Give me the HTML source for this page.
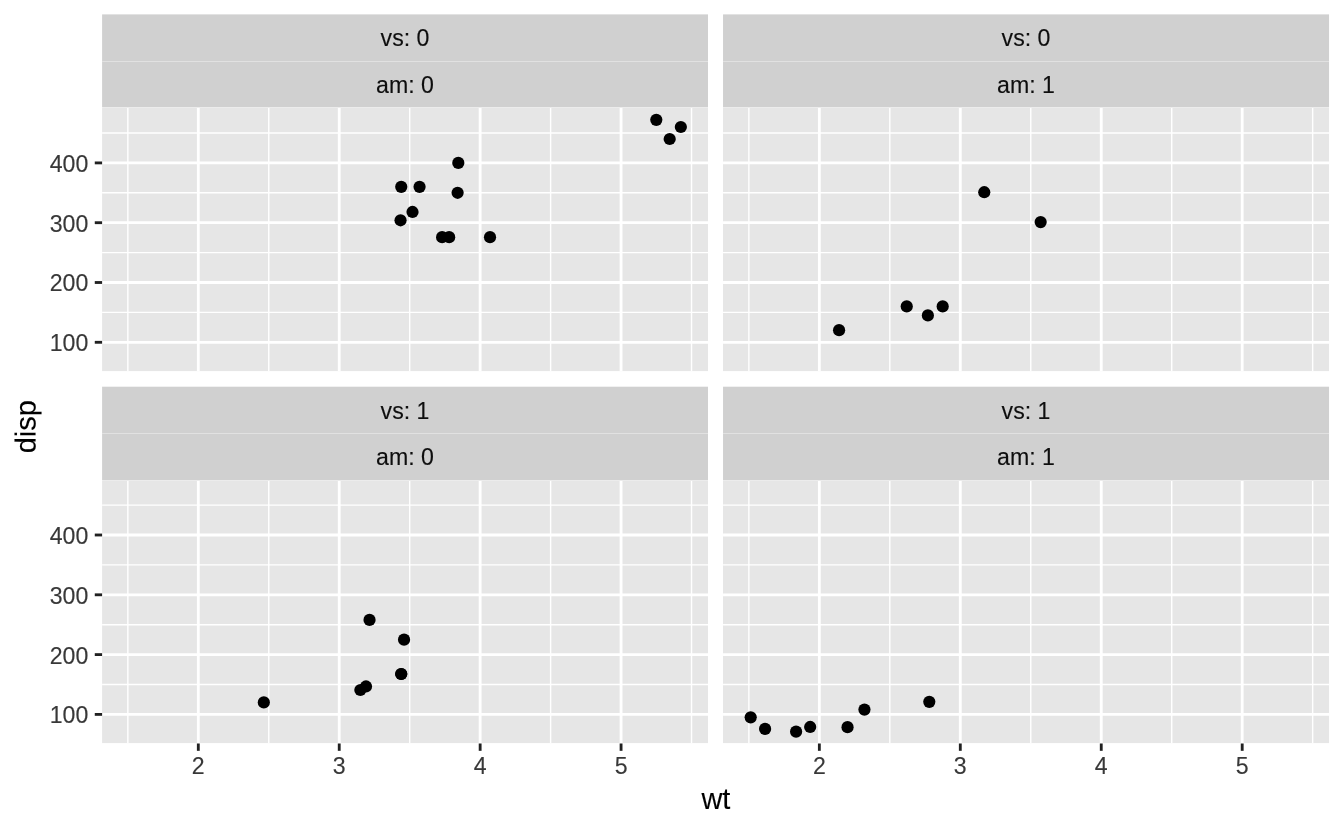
<!DOCTYPE html>
<html lang="en"><head><meta charset="utf-8"><title>disp vs wt by vs and am</title>
<style>html,body{margin:0;padding:0;background:#fff}body{width:1344px;height:830px;overflow:hidden}svg{display:block}text{font-family:"Liberation Sans",Arial,Helvetica,sans-serif;stroke-width:0.12px;stroke-linejoin:round}.a{fill:#383838;stroke:#383838}.s{fill:#0e0e0e;stroke:#0e0e0e}.t{fill:#000;stroke:#000}</style></head><body>
<svg width="1344" height="830" viewBox="0 0 1344 830">
<rect width="1344" height="830" fill="#ffffff"/>
<defs>
<clipPath id="c00"><rect x="102.1" y="108" width="605.90" height="263.10"/></clipPath>
<clipPath id="c01"><rect x="723.04" y="108" width="606.01" height="263.10"/></clipPath>
<clipPath id="c10"><rect x="102.1" y="481" width="605.90" height="262.10"/></clipPath>
<clipPath id="c11"><rect x="723.04" y="481" width="606.01" height="262.10"/></clipPath>
</defs>
<rect x="102.1" y="14.4" width="605.90" height="92.60" fill="#d0d0d0"/>
<rect x="102.1" y="61" width="605.90" height="1" fill="#e1e1e1"/>
<rect x="102.1" y="107" width="605.90" height="1" fill="#ececec"/>
<rect x="102.1" y="108" width="605.90" height="263.10" fill="#e6e6e6"/>
<g clip-path="url(#c00)">
<line x1="102.1" x2="708.0" y1="312.40" y2="312.40" stroke="#fff" stroke-width="1.42"/>
<line x1="102.1" x2="708.0" y1="252.60" y2="252.60" stroke="#fff" stroke-width="1.42"/>
<line x1="102.1" x2="708.0" y1="192.80" y2="192.80" stroke="#fff" stroke-width="1.42"/>
<line x1="102.1" x2="708.0" y1="133.00" y2="133.00" stroke="#fff" stroke-width="1.42"/>
<line x1="127.85" x2="127.85" y1="108" y2="371.1" stroke="#fff" stroke-width="1.42"/>
<line x1="268.77" x2="268.77" y1="108" y2="371.1" stroke="#fff" stroke-width="1.42"/>
<line x1="409.69" x2="409.69" y1="108" y2="371.1" stroke="#fff" stroke-width="1.42"/>
<line x1="550.61" x2="550.61" y1="108" y2="371.1" stroke="#fff" stroke-width="1.42"/>
<line x1="691.53" x2="691.53" y1="108" y2="371.1" stroke="#fff" stroke-width="1.42"/>
<line x1="102.1" x2="708.0" y1="342.30" y2="342.30" stroke="#fff" stroke-width="2.84"/>
<line x1="102.1" x2="708.0" y1="282.50" y2="282.50" stroke="#fff" stroke-width="2.84"/>
<line x1="102.1" x2="708.0" y1="222.70" y2="222.70" stroke="#fff" stroke-width="2.84"/>
<line x1="102.1" x2="708.0" y1="162.90" y2="162.90" stroke="#fff" stroke-width="2.84"/>
<line x1="198.31" x2="198.31" y1="108" y2="371.1" stroke="#fff" stroke-width="2.84"/>
<line x1="339.23" x2="339.23" y1="108" y2="371.1" stroke="#fff" stroke-width="2.84"/>
<line x1="480.15" x2="480.15" y1="108" y2="371.1" stroke="#fff" stroke-width="2.84"/>
<line x1="621.07" x2="621.07" y1="108" y2="371.1" stroke="#fff" stroke-width="2.84"/>
<circle cx="401.24" cy="186.82" r="6.1" fill="#000"/>
<circle cx="419.56" cy="186.82" r="6.1" fill="#000"/>
<circle cx="490.02" cy="237.17" r="6.1" fill="#000"/>
<circle cx="442.11" cy="237.17" r="6.1" fill="#000"/>
<circle cx="449.15" cy="237.17" r="6.1" fill="#000"/>
<circle cx="656.30" cy="119.84" r="6.1" fill="#000"/>
<circle cx="680.83" cy="127.02" r="6.1" fill="#000"/>
<circle cx="669.69" cy="138.98" r="6.1" fill="#000"/>
<circle cx="412.51" cy="211.94" r="6.1" fill="#000"/>
<circle cx="400.54" cy="220.31" r="6.1" fill="#000"/>
<circle cx="457.61" cy="192.80" r="6.1" fill="#000"/>
<circle cx="458.31" cy="162.90" r="6.1" fill="#000"/>
</g>
<text x="405.05" y="46" font-size="23.15" class="s" text-anchor="middle">vs: 0</text>
<text x="405.05" y="93" font-size="23.15" class="s" text-anchor="middle">am: 0</text>
<rect x="723.04" y="14.4" width="606.01" height="92.60" fill="#d0d0d0"/>
<rect x="723.04" y="61" width="606.01" height="1" fill="#e1e1e1"/>
<rect x="723.04" y="107" width="606.01" height="1" fill="#ececec"/>
<rect x="723.04" y="108" width="606.01" height="263.10" fill="#e6e6e6"/>
<g clip-path="url(#c01)">
<line x1="723.04" x2="1329.05" y1="312.40" y2="312.40" stroke="#fff" stroke-width="1.42"/>
<line x1="723.04" x2="1329.05" y1="252.60" y2="252.60" stroke="#fff" stroke-width="1.42"/>
<line x1="723.04" x2="1329.05" y1="192.80" y2="192.80" stroke="#fff" stroke-width="1.42"/>
<line x1="723.04" x2="1329.05" y1="133.00" y2="133.00" stroke="#fff" stroke-width="1.42"/>
<line x1="748.87" x2="748.87" y1="108" y2="371.1" stroke="#fff" stroke-width="1.42"/>
<line x1="889.82" x2="889.82" y1="108" y2="371.1" stroke="#fff" stroke-width="1.42"/>
<line x1="1030.77" x2="1030.77" y1="108" y2="371.1" stroke="#fff" stroke-width="1.42"/>
<line x1="1171.72" x2="1171.72" y1="108" y2="371.1" stroke="#fff" stroke-width="1.42"/>
<line x1="1312.67" x2="1312.67" y1="108" y2="371.1" stroke="#fff" stroke-width="1.42"/>
<line x1="723.04" x2="1329.05" y1="342.30" y2="342.30" stroke="#fff" stroke-width="2.84"/>
<line x1="723.04" x2="1329.05" y1="282.50" y2="282.50" stroke="#fff" stroke-width="2.84"/>
<line x1="723.04" x2="1329.05" y1="222.70" y2="222.70" stroke="#fff" stroke-width="2.84"/>
<line x1="723.04" x2="1329.05" y1="162.90" y2="162.90" stroke="#fff" stroke-width="2.84"/>
<line x1="819.35" x2="819.35" y1="108" y2="371.1" stroke="#fff" stroke-width="2.84"/>
<line x1="960.30" x2="960.30" y1="108" y2="371.1" stroke="#fff" stroke-width="2.84"/>
<line x1="1101.25" x2="1101.25" y1="108" y2="371.1" stroke="#fff" stroke-width="2.84"/>
<line x1="1242.20" x2="1242.20" y1="108" y2="371.1" stroke="#fff" stroke-width="2.84"/>
<circle cx="906.73" cy="306.42" r="6.1" fill="#000"/>
<circle cx="942.68" cy="306.42" r="6.1" fill="#000"/>
<circle cx="839.08" cy="330.16" r="6.1" fill="#000"/>
<circle cx="984.26" cy="192.20" r="6.1" fill="#000"/>
<circle cx="927.88" cy="315.39" r="6.1" fill="#000"/>
<circle cx="1040.64" cy="222.10" r="6.1" fill="#000"/>
</g>
<text x="1026.05" y="46" font-size="23.15" class="s" text-anchor="middle">vs: 0</text>
<text x="1026.05" y="93" font-size="23.15" class="s" text-anchor="middle">am: 1</text>
<line x1="94.77" x2="102.1" y1="342.30" y2="342.30" stroke="#212121" stroke-width="2.84"/>
<text x="88.25" y="351" font-size="23.15" class="a" text-anchor="end">100</text>
<line x1="94.77" x2="102.1" y1="282.50" y2="282.50" stroke="#212121" stroke-width="2.84"/>
<text x="88.25" y="291" font-size="23.15" class="a" text-anchor="end">200</text>
<line x1="94.77" x2="102.1" y1="222.70" y2="222.70" stroke="#212121" stroke-width="2.84"/>
<text x="88.25" y="232" font-size="23.15" class="a" text-anchor="end">300</text>
<line x1="94.77" x2="102.1" y1="162.90" y2="162.90" stroke="#212121" stroke-width="2.84"/>
<text x="88.25" y="172" font-size="23.15" class="a" text-anchor="end">400</text>
<rect x="102.1" y="386.7" width="605.90" height="93.30" fill="#d0d0d0"/>
<rect x="102.1" y="433" width="605.90" height="1" fill="#e1e1e1"/>
<rect x="102.1" y="480" width="605.90" height="1" fill="#ececec"/>
<rect x="102.1" y="481" width="605.90" height="262.10" fill="#e6e6e6"/>
<g clip-path="url(#c10)">
<line x1="102.1" x2="708.0" y1="684.50" y2="684.50" stroke="#fff" stroke-width="1.42"/>
<line x1="102.1" x2="708.0" y1="624.70" y2="624.70" stroke="#fff" stroke-width="1.42"/>
<line x1="102.1" x2="708.0" y1="564.90" y2="564.90" stroke="#fff" stroke-width="1.42"/>
<line x1="102.1" x2="708.0" y1="505.10" y2="505.10" stroke="#fff" stroke-width="1.42"/>
<line x1="127.85" x2="127.85" y1="481" y2="743.1" stroke="#fff" stroke-width="1.42"/>
<line x1="268.77" x2="268.77" y1="481" y2="743.1" stroke="#fff" stroke-width="1.42"/>
<line x1="409.69" x2="409.69" y1="481" y2="743.1" stroke="#fff" stroke-width="1.42"/>
<line x1="550.61" x2="550.61" y1="481" y2="743.1" stroke="#fff" stroke-width="1.42"/>
<line x1="691.53" x2="691.53" y1="481" y2="743.1" stroke="#fff" stroke-width="1.42"/>
<line x1="102.1" x2="708.0" y1="714.40" y2="714.40" stroke="#fff" stroke-width="2.84"/>
<line x1="102.1" x2="708.0" y1="654.60" y2="654.60" stroke="#fff" stroke-width="2.84"/>
<line x1="102.1" x2="708.0" y1="594.80" y2="594.80" stroke="#fff" stroke-width="2.84"/>
<line x1="102.1" x2="708.0" y1="535.00" y2="535.00" stroke="#fff" stroke-width="2.84"/>
<line x1="198.31" x2="198.31" y1="481" y2="743.1" stroke="#fff" stroke-width="2.84"/>
<line x1="339.23" x2="339.23" y1="481" y2="743.1" stroke="#fff" stroke-width="2.84"/>
<line x1="480.15" x2="480.15" y1="481" y2="743.1" stroke="#fff" stroke-width="2.84"/>
<line x1="621.07" x2="621.07" y1="481" y2="743.1" stroke="#fff" stroke-width="2.84"/>
<circle cx="369.53" cy="619.92" r="6.1" fill="#000"/>
<circle cx="404.06" cy="639.65" r="6.1" fill="#000"/>
<circle cx="366.01" cy="686.47" r="6.1" fill="#000"/>
<circle cx="360.37" cy="690.00" r="6.1" fill="#000"/>
<circle cx="401.24" cy="673.98" r="6.1" fill="#000"/>
<circle cx="401.24" cy="673.98" r="6.1" fill="#000"/>
<circle cx="263.84" cy="702.38" r="6.1" fill="#000"/>
</g>
<text x="405.05" y="419" font-size="23.15" class="s" text-anchor="middle">vs: 1</text>
<text x="405.05" y="465" font-size="23.15" class="s" text-anchor="middle">am: 0</text>
<rect x="723.04" y="386.7" width="606.01" height="93.30" fill="#d0d0d0"/>
<rect x="723.04" y="433" width="606.01" height="1" fill="#e1e1e1"/>
<rect x="723.04" y="480" width="606.01" height="1" fill="#ececec"/>
<rect x="723.04" y="481" width="606.01" height="262.10" fill="#e6e6e6"/>
<g clip-path="url(#c11)">
<line x1="723.04" x2="1329.05" y1="684.50" y2="684.50" stroke="#fff" stroke-width="1.42"/>
<line x1="723.04" x2="1329.05" y1="624.70" y2="624.70" stroke="#fff" stroke-width="1.42"/>
<line x1="723.04" x2="1329.05" y1="564.90" y2="564.90" stroke="#fff" stroke-width="1.42"/>
<line x1="723.04" x2="1329.05" y1="505.10" y2="505.10" stroke="#fff" stroke-width="1.42"/>
<line x1="748.87" x2="748.87" y1="481" y2="743.1" stroke="#fff" stroke-width="1.42"/>
<line x1="889.82" x2="889.82" y1="481" y2="743.1" stroke="#fff" stroke-width="1.42"/>
<line x1="1030.77" x2="1030.77" y1="481" y2="743.1" stroke="#fff" stroke-width="1.42"/>
<line x1="1171.72" x2="1171.72" y1="481" y2="743.1" stroke="#fff" stroke-width="1.42"/>
<line x1="1312.67" x2="1312.67" y1="481" y2="743.1" stroke="#fff" stroke-width="1.42"/>
<line x1="723.04" x2="1329.05" y1="714.40" y2="714.40" stroke="#fff" stroke-width="2.84"/>
<line x1="723.04" x2="1329.05" y1="654.60" y2="654.60" stroke="#fff" stroke-width="2.84"/>
<line x1="723.04" x2="1329.05" y1="594.80" y2="594.80" stroke="#fff" stroke-width="2.84"/>
<line x1="723.04" x2="1329.05" y1="535.00" y2="535.00" stroke="#fff" stroke-width="2.84"/>
<line x1="819.35" x2="819.35" y1="481" y2="743.1" stroke="#fff" stroke-width="2.84"/>
<line x1="960.30" x2="960.30" y1="481" y2="743.1" stroke="#fff" stroke-width="2.84"/>
<line x1="1101.25" x2="1101.25" y1="481" y2="743.1" stroke="#fff" stroke-width="2.84"/>
<line x1="1242.20" x2="1242.20" y1="481" y2="743.1" stroke="#fff" stroke-width="2.84"/>
<circle cx="864.45" cy="709.62" r="6.1" fill="#000"/>
<circle cx="847.54" cy="727.14" r="6.1" fill="#000"/>
<circle cx="765.08" cy="728.93" r="6.1" fill="#000"/>
<circle cx="796.09" cy="731.68" r="6.1" fill="#000"/>
<circle cx="810.18" cy="726.96" r="6.1" fill="#000"/>
<circle cx="750.70" cy="717.33" r="6.1" fill="#000"/>
<circle cx="929.29" cy="701.84" r="6.1" fill="#000"/>
</g>
<text x="1026.05" y="419" font-size="23.15" class="s" text-anchor="middle">vs: 1</text>
<text x="1026.05" y="465" font-size="23.15" class="s" text-anchor="middle">am: 1</text>
<line x1="94.77" x2="102.1" y1="714.40" y2="714.40" stroke="#212121" stroke-width="2.84"/>
<text x="88.25" y="723" font-size="23.15" class="a" text-anchor="end">100</text>
<line x1="94.77" x2="102.1" y1="654.60" y2="654.60" stroke="#212121" stroke-width="2.84"/>
<text x="88.25" y="664" font-size="23.15" class="a" text-anchor="end">200</text>
<line x1="94.77" x2="102.1" y1="594.80" y2="594.80" stroke="#212121" stroke-width="2.84"/>
<text x="88.25" y="604" font-size="23.15" class="a" text-anchor="end">300</text>
<line x1="94.77" x2="102.1" y1="535.00" y2="535.00" stroke="#212121" stroke-width="2.84"/>
<text x="88.25" y="544" font-size="23.15" class="a" text-anchor="end">400</text>
<line x1="198.31" x2="198.31" y1="743.50" y2="750.83" stroke="#212121" stroke-width="2.84"/>
<text x="198.31" y="774" font-size="23.15" class="a" text-anchor="middle">2</text>
<line x1="339.23" x2="339.23" y1="743.50" y2="750.83" stroke="#212121" stroke-width="2.84"/>
<text x="339.23" y="774" font-size="23.15" class="a" text-anchor="middle">3</text>
<line x1="480.15" x2="480.15" y1="743.50" y2="750.83" stroke="#212121" stroke-width="2.84"/>
<text x="480.15" y="774" font-size="23.15" class="a" text-anchor="middle">4</text>
<line x1="621.07" x2="621.07" y1="743.50" y2="750.83" stroke="#212121" stroke-width="2.84"/>
<text x="621.07" y="774" font-size="23.15" class="a" text-anchor="middle">5</text>
<line x1="819.35" x2="819.35" y1="743.50" y2="750.83" stroke="#212121" stroke-width="2.84"/>
<text x="819.35" y="774" font-size="23.15" class="a" text-anchor="middle">2</text>
<line x1="960.30" x2="960.30" y1="743.50" y2="750.83" stroke="#212121" stroke-width="2.84"/>
<text x="960.30" y="774" font-size="23.15" class="a" text-anchor="middle">3</text>
<line x1="1101.25" x2="1101.25" y1="743.50" y2="750.83" stroke="#212121" stroke-width="2.84"/>
<text x="1101.25" y="774" font-size="23.15" class="a" text-anchor="middle">4</text>
<line x1="1242.20" x2="1242.20" y1="743.50" y2="750.83" stroke="#212121" stroke-width="2.84"/>
<text x="1242.20" y="774" font-size="23.15" class="a" text-anchor="middle">5</text>
<text x="715.85" y="809" font-size="28.95" class="t" text-anchor="middle">wt</text>
<text transform="translate(35.5,426.8) rotate(-89.9)" text-rendering="geometricPrecision" font-size="28.95" class="t" text-anchor="middle">disp</text>
</svg></body></html>
